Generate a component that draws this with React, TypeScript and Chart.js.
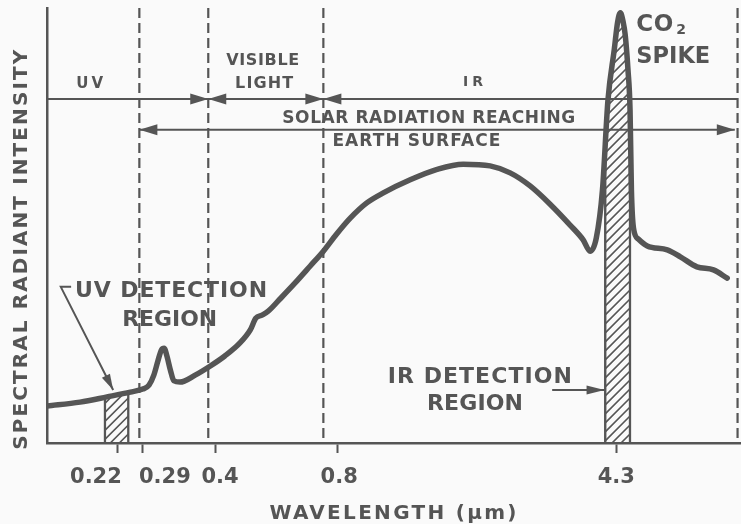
import React, { useEffect, useRef } from "react";
import { Chart, registerables } from "chart.js";

Chart.register(...registerables);

// Horizontal axis is a drawn (non-uniform) wavelength scale: positions are in
// relative axis units 0..100, tick labels give the wavelength in µm.
const curveX = [
  0, 4.8, 8.7, 12.1, 13.9, 14.8, 15.5, 16.1, 16.6, 17.0, 17.4, 17.9, 18.4, 19.3,
  21.5, 23.7, 25.8, 28.0, 29.5, 30.3, 31.2, 32.1, 33.8, 36.0, 38.2, 40.1, 42.0,
  44.0, 46.4, 48.8, 52.7, 56.6, 60.4, 64.3, 67.2, 70.1, 73.0, 75.9, 77.8, 78.8,
  79.7, 80.6, 81.4, 82.3, 82.8, 83.2, 83.6, 83.9, 84.3, 84.6, 84.8, 85.1, 85.8,
  87.1, 90.0, 91.9, 94.3, 96.7, 98.7,
];
const curveY = [
  8.5, 9.4, 10.6, 11.7, 12.4, 13.3, 15.6, 18.9, 21.4, 21.8, 20.0, 16.8, 14.3, 14.0,
  15.6, 17.7, 20.0, 23.0, 26.0, 28.7, 29.4, 30.3, 33.1, 36.8, 40.7, 44.1, 48.0,
  51.7, 55.2, 57.5, 60.5, 62.9, 64.1, 63.7, 62.1, 59.1, 54.9, 50.1, 46.7, 44.1,
  47.1, 58.2, 78.9, 90.3, 96.8, 98.9, 96.8, 93.8, 85.8, 76.6, 58.2, 49.4, 46.9,
  45.3, 44.4, 42.8, 40.5, 39.8, 37.9,
];
const tickPositions = [10.2, 13.9, 24.5, 42.2, 82.7];
const tickLabelPositions = [7.1, 17.1, 25.1, 42.4, 82.6];
const tickLabels = ["0.22", "0.29", "0.4", "0.8", "4.3"];
const bandBoundaries = [13.4, 23.4, 40.1, 100.2];
const uvDetectionBand = [8.4, 11.8];
const irDetectionBand = [81.0, 84.6];

const INK = "#555555";
const FONT = "'DejaVu Sans', 'Liberation Sans', sans-serif";

function fitText(
  ctx: CanvasRenderingContext2D,
  text: string,
  x: number,
  y: number,
  size: number,
  width: number,
  align: "center" | "left" = "center"
) {
  ctx.save();
  ctx.font = `bold ${size}px ${FONT}`;
  (ctx as any).letterSpacing = "0px";
  const w0 = ctx.measureText(text).width;
  const n = text.length;
  let sp = n > 1 ? (width - w0) / (n - 1) : 0;
  let sx = 1;
  if (sp < 0) {
    sx = width / w0;
    sp = 0;
  }
  (ctx as any).letterSpacing = sp + "px";
  ctx.fillStyle = INK;
  ctx.textAlign = "left";
  ctx.textBaseline = "alphabetic";
  const left = align === "center" ? x - width / 2 : x;
  ctx.translate(left, y + size * 0.36);
  ctx.scale(sx, 1);
  ctx.fillText(text, 0, 0);
  ctx.restore();
}

function arrowHead(ctx: CanvasRenderingContext2D, x: number, y: number, ang: number, len = 18, half = 5.5) {
  ctx.save();
  ctx.translate(x, y);
  ctx.rotate(ang);
  ctx.beginPath();
  ctx.moveTo(0, 0);
  ctx.lineTo(-len, -half);
  ctx.lineTo(-len, half);
  ctx.closePath();
  ctx.fillStyle = INK;
  ctx.fill();
  ctx.restore();
}

const diagramPlugin = {
  id: "diagram",
  beforeDraw(chart: any) {
    const ctx = chart.ctx as CanvasRenderingContext2D;
    ctx.save();
    ctx.fillStyle = "#fafafa";
    ctx.fillRect(0, 0, chart.width, chart.height);
    ctx.restore();
  },
  beforeDatasetsDraw(chart: any) {
    const ctx = chart.ctx as CanvasRenderingContext2D;
    const xs = chart.scales.x;
    const ys = chart.scales.y;
    const { top, bottom } = chart.chartArea;

    ctx.save();
    ctx.strokeStyle = INK;
    ctx.lineWidth = 2.2;
    ctx.setLineDash([10, 5]);
    bandBoundaries.forEach((b) => {
      const px = xs.getPixelForValue(b);
      ctx.beginPath();
      ctx.moveTo(px, top);
      ctx.lineTo(px, bottom);
      ctx.stroke();
    });
    ctx.restore();

    const drawBand = (band: number[]) => {
      const L = xs.getPixelForValue(band[0]);
      const R = xs.getPixelForValue(band[1]);
      ctx.save();
      ctx.beginPath();
      ctx.moveTo(xs.getPixelForValue(curveX[0]), bottom);
      for (let i = 0; i < curveX.length; i++) {
        ctx.lineTo(xs.getPixelForValue(curveX[i]), ys.getPixelForValue(curveY[i]));
      }
      ctx.lineTo(xs.getPixelForValue(curveX[curveX.length - 1]), bottom);
      ctx.closePath();
      ctx.clip();
      ctx.beginPath();
      ctx.rect(L - 1.5, top, R - L + 3, bottom - top);
      ctx.clip();
      ctx.strokeStyle = INK;
      ctx.lineWidth = 1.6;
      ctx.beginPath();
      const w = R - L;
      for (let k = bottom + w; k > top - 10; k -= 9) {
        ctx.moveTo(L, k);
        ctx.lineTo(R, k - w);
      }
      ctx.stroke();
      ctx.lineWidth = 2.4;
      ctx.beginPath();
      ctx.moveTo(L, bottom);
      ctx.lineTo(L, top);
      ctx.moveTo(R, bottom);
      ctx.lineTo(R, top);
      ctx.stroke();
      ctx.restore();
    };
    drawBand(uvDetectionBand);
    drawBand(irDetectionBand);
  },
  afterDatasetsDraw(chart: any) {
    const ctx = chart.ctx as CanvasRenderingContext2D;
    const xs = chart.scales.x;
    const ys = chart.scales.y;
    const X = (v: number) => xs.getPixelForValue(v);
    const Y = (v: number) => ys.getPixelForValue(v);
    const { left, bottom } = chart.chartArea;

    ctx.save();
    ctx.strokeStyle = INK;
    ctx.lineWidth = 2;
    ctx.beginPath();
    ctx.moveTo(X(0), Y(79.1));
    ctx.lineTo(X(100.2), Y(79.1));
    ctx.moveTo(X(bandBoundaries[0]), Y(72.0));
    ctx.lineTo(X(99.8), Y(72.0));
    ctx.stroke();
    arrowHead(ctx, X(bandBoundaries[1]), Y(79.1), 0);
    arrowHead(ctx, X(bandBoundaries[1]), Y(79.1), Math.PI);
    arrowHead(ctx, X(bandBoundaries[2]), Y(79.1), 0);
    arrowHead(ctx, X(bandBoundaries[2]), Y(79.1), Math.PI);
    arrowHead(ctx, X(bandBoundaries[0]), Y(72.0), Math.PI);
    arrowHead(ctx, X(99.8), Y(72.0), 0);

    ctx.lineWidth = 2;
    ctx.beginPath();
    ctx.moveTo(X(3.5), Y(35.9));
    ctx.lineTo(X(2.0), Y(35.9));
    const ex = X(9.6), ey = Y(12.2);
    ctx.lineTo(ex, ey);
    ctx.stroke();
    arrowHead(ctx, ex, ey, Math.atan2(ey - Y(35.9), ex - X(2.0)), 16, 4.5);

    ctx.beginPath();
    ctx.moveTo(X(73.3), Y(12.2));
    ctx.lineTo(X(80.9), Y(12.2));
    ctx.stroke();
    arrowHead(ctx, X(80.9), Y(12.2), 0, 18, 4.5);
    ctx.restore();

    fitText(ctx, "UV", X(6.2), Y(82.8), 15, 27);
    fitText(ctx, "VISIBLE", X(31.3), Y(88.3), 16, 73);
    fitText(ctx, "LIGHT", X(31.5), Y(83.0), 16, 58);
    fitText(ctx, "IR", X(61.8), Y(83.2), 14, 20);
    fitText(ctx, "SOLAR RADIATION REACHING", X(55.4), Y(74.9), 17, 293);
    fitText(ctx, "EARTH SURFACE", X(53.6), Y(69.7), 17, 168);
    fitText(ctx, "CO", X(85.5), Y(96.6), 23, 37, "left");
    fitText(ctx, "2", X(85.5) + 40, Y(96.6) + 6, 14, 9, "left");
    fitText(ctx, "SPIKE", X(85.5), Y(89.2), 23, 74, "left");
    fitText(ctx, "UV DETECTION", X(18.0), Y(35.4), 22, 192);
    fitText(ctx, "REGION", X(17.8), Y(28.7), 22, 95);
    fitText(ctx, "IR DETECTION", X(62.8), Y(15.6), 22, 184);
    fitText(ctx, "REGION", X(62.1), Y(9.4), 22, 96);

    fitText(ctx, "WAVELENGTH (µm)", X(50.2), bottom + 69, 20, 247);
    ctx.save();
    ctx.translate(left - 27, Y(44.4));
    ctx.rotate(-Math.PI / 2);
    fitText(ctx, "SPECTRAL RADIANT INTENSITY", 0, 0, 20, 400);
    ctx.restore();
  },
};

export default function App() {
  const ref = useRef<HTMLCanvasElement | null>(null);
  useEffect(() => {
    document.body.style.margin = "0";
    if (!ref.current) return;
    const chart = new Chart(ref.current, {
      type: "line",
      data: {
        datasets: [
          {
            label: "Spectral radiant intensity",
            data: curveX.map((x, i) => ({ x, y: curveY[i] })),
            borderColor: INK,
            borderWidth: 5.5,
            borderCapStyle: "round",
            borderJoinStyle: "round",
            pointRadius: 0,
            cubicInterpolationMode: "monotone",
            fill: false,
          },
        ],
      },
      options: {
        responsive: true,
        maintainAspectRatio: false,
        animation: false,
        layout: { padding: { top: 8, left: 0, right: 0, bottom: 0 } },
        plugins: { legend: { display: false }, tooltip: { enabled: false } },
        scales: {
          x: {
            type: "linear",
            position: "bottom",
            weight: 0,
            min: 0,
            max: 100.7,
            afterBuildTicks: (scale: any) => {
              scale.ticks = tickPositions.map((v) => ({ value: v }));
            },
            afterFit: (scale: any) => {
              scale.height = 10;
            },
            ticks: { display: false, autoSkip: false },
            grid: {
              display: true,
              drawOnChartArea: false,
              drawTicks: true,
              tickLength: 10,
              tickWidth: 2,
              color: INK,
            },
            border: { display: true, color: INK, width: 2.5 },
          },
          xLabels: {
            type: "linear",
            position: "bottom",
            weight: 1,
            min: 0,
            max: 100.7,
            afterBuildTicks: (scale: any) => {
              scale.ticks = tickLabelPositions.map((v) => ({ value: v }));
            },
            afterFit: (scale: any) => {
              scale.height = 71;
            },
            ticks: {
              autoSkip: false,
              maxRotation: 0,
              padding: 4,
              color: INK,
              font: { family: FONT, size: 21, weight: "bold" },
              callback: (_v: any, i: number) => tickLabels[i],
            },
            grid: { display: false },
            border: { display: false },
          },
          y: {
            type: "linear",
            min: 0,
            max: 100,
            afterFit: (scale: any) => {
              scale.width = 47;
            },
            ticks: { display: false },
            grid: { display: false },
            border: { display: true, color: INK, width: 2.5 },
          },
        },
      },
      plugins: [diagramPlugin],
    } as any);
    return () => chart.destroy();
  }, []);
  return (
    <div style={{ width: 741, height: 524, position: "relative" }}>
      <canvas ref={ref} />
    </div>
  );
}
